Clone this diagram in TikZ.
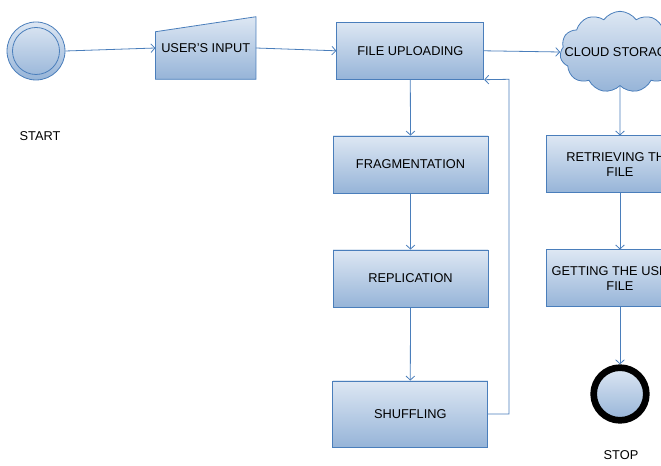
\documentclass[tikz,border=0pt]{standalone}
\usepackage{fontspec}
\setmainfont{Liberation Sans}
\usepackage{xcolor}
\usepackage{tikz}
\usetikzlibrary{positioning, calc, arrows.meta, shapes.symbols, backgrounds}

\definecolor{flowline}{RGB}{74,126,187}
\definecolor{boxtop}{RGB}{221,231,243}
\definecolor{boxbottom}{RGB}{150,180,216}

\tikzset{
  stepbox/.style={draw=flowline, line width=0.6pt, top color=boxtop, bottom color=boxbottom,
    align=center, inner sep=0.75pt, font=\fontsize{9.6}{11.5}\selectfont},
  endtext/.style={inner sep=0.75pt, font=\fontsize{9.6}{11.5}\selectfont},
  flow/.style={draw=flowline, line width=0.6pt, -{Straight Barb[length=3pt,width=6.5pt]}},
}

\begin{document}
\begin{tikzpicture}[x=0.75pt,y=0.75pt,yscale=-1,xscale=1]
\useasboundingbox (0,0) rectangle (661,466);
\clip (0,0) rectangle (661,466);

%Shape: Circle (start)
\node [stepbox, circle, minimum size=43.5pt] (start) at (36,51) {};
\node [circle, draw=flowline, line width=0.6pt, minimum size=35.25pt] (startin) at (36,51) {};
% Text Node
\node [endtext] (startlbl) at (40,136) {START};

%Shape: Manual input
\node [endtext, inner sep=0pt, minimum width=75pt, minimum height=46.5pt] (input) at (205.7,48) {USER'S INPUT};
\begin{pgfonlayer}{background}
\draw [draw=flowline, line width=0.6pt, top color=boxtop, bottom color=boxbottom]
  ($(input.north west)+(0,15)$) -- (input.north east) -- (input.south east) -- (input.south west) -- cycle ;
\end{pgfonlayer}

%Shape: Rectangle
\node [stepbox, minimum width=110.25pt, minimum height=42.75pt] (upload) at (410.3,50.8) {FILE UPLOADING};
%Shape: Rectangle
\node [stepbox, minimum width=116.25pt, minimum height=42.75pt] (frag) at (410.5,164.5) {FRAGMENTATION};
%Shape: Rectangle
\node [stepbox, minimum width=116.25pt, minimum height=42.75pt] (rep) at (410.5,278.5) {REPLICATION};
%Shape: Rectangle
\node [stepbox, minimum width=116.25pt, minimum height=49.5pt] (shuf) at (410.3,414) {SHUFFLING};

%Shape: Cloud
\node [stepbox, cloud, cloud puffs=11, cloud puff arc=110, inner sep=0pt,
  minimum width=90pt, minimum height=61pt] (cloud) at (620,52) {\makebox[0pt]{CLOUD STORAGE}};
%Shape: Rectangle
\node [stepbox, minimum width=110.25pt, minimum height=42.75pt] (retr) at (620,164.4) {RETRIEVING THE\\FILE};
%Shape: Rectangle
\node [stepbox, minimum width=110.25pt, minimum height=42.75pt] (get) at (620,278.4) {GETTING THE USER'S\\FILE};

%Shape: Circle (stop)
\node [stepbox, circle, draw=black, line width=5pt, minimum size=39.5pt] (stop) at (620,394) {};
% Text Node
\node [endtext] (stoplbl) at (621,455) {STOP};

%Straight Lines
\draw [flow] (start.east) -- (input.west) ;
\draw [flow] (input.east) -- (upload.west) ;
\draw [flow] (upload.east) -- (cloud.west) ;
\draw [flow] (upload.south) -- (frag.north) ;
\draw [flow] (frag.south) -- (rep.north) ;
\draw [flow] (rep.south) -- (shuf.north) ;
\coordinate (loopup) at (509,79.3) ;
\draw [flow] (shuf.east) -| (loopup) -- (upload.south east) ;
\draw [flow] (cloud.south) -- (retr.north) ;
\draw [flow] (retr.south) -- (get.north) ;
\draw [flow] (get.south) -- (stop.north) ;

\end{tikzpicture}
\end{document}
